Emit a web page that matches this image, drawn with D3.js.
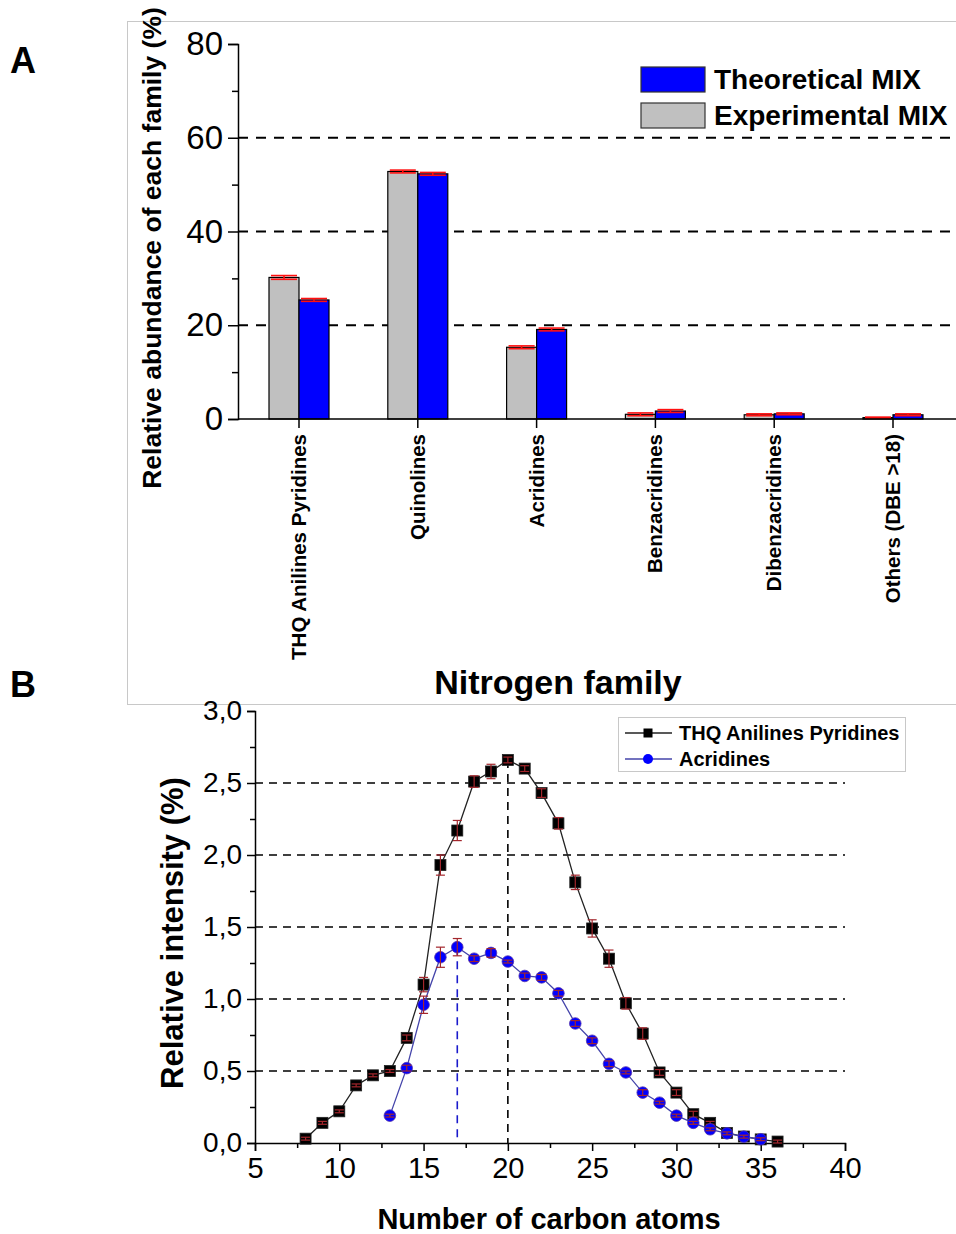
<!DOCTYPE html>
<html>
<head>
<meta charset="utf-8">
<script src="https://cdnjs.cloudflare.com/ajax/libs/d3/7.8.5/d3.min.js"></script>
<style>
  body { margin: 0; background: #fff; }
  svg text { font-family: Arial, "Liberation Sans", sans-serif; }
</style>
</head>
<body>
<svg id="fig" width="956" height="1234"></svg>
<script>
// Panel A data
var families = ["THQ Anilines Pyridines", "Quinolines", "Acridines", "Benzacridines", "Dibenzacridines", "Others (DBE >18)"];
var experimental = [30.2, 52.8, 15.3, 1.0, 0.9, 0.3];
var theoretical = [25.4, 52.3, 19.1, 1.7, 1.1, 0.9];
var errExp = [0.4, 0.3, 0.3, 0.3, 0.2, 0.1];
var errTheo = [0.3, 0.3, 0.3, 0.3, 0.2, 0.2];
var ticksA = [0, 20, 40, 60, 80];

// Panel B data
var carbonTHQ = d3.range(8, 37);
var thqValues = [0.03, 0.14, 0.22, 0.40, 0.47, 0.50, 0.73, 1.10, 1.93, 2.17, 2.51, 2.58, 2.66, 2.60, 2.43, 2.22, 1.81, 1.49, 1.28, 0.97, 0.76, 0.49, 0.35, 0.20, 0.14, 0.07, 0.045, 0.025, 0.01];
var thqErr = [0.01, 0.01, 0.01, 0.01, 0.01, 0.01, 0.02, 0.05, 0.07, 0.07, 0.04, 0.05, 0.02, 0.02, 0.03, 0.04, 0.05, 0.06, 0.06, 0.04, 0.04, 0.02, 0.02, 0.02, 0.01, 0.01, 0.01, 0.01, 0.01];
var carbonAcr = d3.range(13, 36);
var acrValues = [0.19, 0.52, 0.96, 1.29, 1.36, 1.28, 1.32, 1.26, 1.16, 1.15, 1.04, 0.83, 0.71, 0.55, 0.49, 0.35, 0.28, 0.19, 0.14, 0.095, 0.067, 0.044, 0.026];
var acrErr = [0.01, 0.02, 0.06, 0.07, 0.06, 0.02, 0.03, 0.01, 0.02, 0.02, 0.02, 0.02, 0.02, 0.02, 0.01, 0.02, 0.01, 0.01, 0.01, 0.01, 0.01, 0.01, 0.01];
var ticksBy = [0, 0.5, 1, 1.5, 2, 2.5, 3];
var ticksBx = [5, 10, 15, 20, 25, 30, 35, 40];

var svg = d3.select("#fig");
var fmt = function(d) { return d3.format(".1f")(d).replace(".", ","); };

// ---------- Panel A ----------
svg.append("rect")
  .attr("x", 127.5).attr("y", 21.5)
  .attr("width", 840).attr("height", 683)
  .attr("fill", "none").attr("stroke", "#c8c8c8");

svg.append("text").attr("x", 10).attr("y", 73)
  .style("font-size", "36px").style("font-weight", "bold").text("A");
svg.append("text").attr("x", 10).attr("y", 697)
  .style("font-size", "36px").style("font-weight", "bold").text("B");

var xA = d3.scalePoint().domain(families).range([299, 893]);
var yA = d3.scaleLinear().domain([0, 80]).range([419, 44]);
var gA = svg.append("g");

// grid
gA.selectAll(".gridA")
  .data([20, 40, 60])
  .enter().append("line")
    .attr("x1", 238).attr("x2", 956)
    .attr("y1", function(d) { return yA(d); })
    .attr("y2", function(d) { return yA(d); })
    .attr("stroke", "#000").attr("stroke-width", 2)
    .attr("stroke-dasharray", "10,8");

// bars
var barW = 30;
gA.selectAll(".barExp")
  .data(families)
  .enter().append("rect")
    .attr("x", function(d) { return xA(d) - barW; })
    .attr("y", function(d, i) { return yA(experimental[i]); })
    .attr("width", barW)
    .attr("height", function(d, i) { return yA(0) - yA(experimental[i]); })
    .attr("fill", "#c0c0c0").attr("stroke", "#000").attr("stroke-width", 1.2);
gA.selectAll(".barTheo")
  .data(families)
  .enter().append("rect")
    .attr("x", function(d) { return xA(d); })
    .attr("y", function(d, i) { return yA(theoretical[i]); })
    .attr("width", barW)
    .attr("height", function(d, i) { return yA(0) - yA(theoretical[i]); })
    .attr("fill", "#0000ff").attr("stroke", "#000").attr("stroke-width", 1.2);

// red error caps
function errA(vals, errs, dx) {
  var g = gA.append("g").attr("stroke", "#ff1010").attr("stroke-width", 1.6);
  families.forEach(function(f, i) {
    var cx = xA(f) + dx;
    g.append("line").attr("x1", cx).attr("x2", cx)
      .attr("y1", yA(vals[i] + errs[i])).attr("y2", yA(vals[i] - errs[i]));
    [vals[i] + errs[i], vals[i] - errs[i]].forEach(function(v) {
      g.append("line").attr("x1", cx - barW / 2 + 2).attr("x2", cx + barW / 2 - 2)
        .attr("y1", yA(v)).attr("y2", yA(v));
    });
  });
}
errA(experimental, errExp, -barW / 2);
errA(theoretical, errTheo, barW / 2);

// axes A
var axA = gA.append("g").attr("transform", "translate(238,0)")
  .call(d3.axisLeft(yA).tickValues(ticksA).tickSize(10).tickPadding(5));
axA.select(".domain").attr("stroke-width", 1.5);
axA.selectAll(".tick line").attr("stroke-width", 1.5);
axA.selectAll("text").style("font-size", "33px").style("font-family", "Arial, 'Liberation Sans'");
gA.append("g").attr("transform", "translate(238,0)")
  .call(d3.axisLeft(yA).tickValues([10, 30, 50, 70]).tickSize(6).tickFormat(""))
  .call(function(g) { g.select(".domain").remove(); })
  .selectAll("line").attr("stroke-width", 1.5);

gA.append("line").attr("x1", 238).attr("x2", 956)
  .attr("y1", yA(0)).attr("y2", yA(0))
  .attr("stroke", "#000").attr("stroke-width", 1.5);
gA.selectAll(".tickA")
  .data(families)
  .enter().append("line")
    .attr("x1", function(d) { return xA(d); })
    .attr("x2", function(d) { return xA(d); })
    .attr("y1", yA(0)).attr("y2", yA(0) + 9)
    .attr("stroke", "#000").attr("stroke-width", 1.5);
gA.selectAll(".labA")
  .data(families)
  .enter().append("text")
    .attr("transform", function(d) { return "translate(" + (xA(d) + 7) + "," + 434 + ") rotate(-90)"; })
    .style("text-anchor", "end")
    .style("font-size", "20.5px")
    .style("font-weight", "bold")
    .text(function(d) { return d; });

svg.append("text")
  .attr("transform", "translate(161," + 248 + ") rotate(-90)")
  .style("text-anchor", "middle").style("font-size", "26.5px").style("font-weight", "bold")
  .text("Relative abundance of each family (%)");
svg.append("text").attr("x", 558).attr("y", 694)
  .style("text-anchor", "middle").style("font-size", "34px").style("font-weight", "bold")
  .text("Nitrogen family");

// legend A
var legA = [["Theoretical MIX", "#0000ff"], ["Experimental MIX", "#c0c0c0"]];
legA.forEach(function(d, i) {
  svg.append("rect").attr("x", 641).attr("y", 67 + i * 36)
    .attr("width", 64).attr("height", 25)
    .attr("fill", d[1]).attr("stroke", "#333").attr("stroke-width", 1.2);
  svg.append("text").attr("x", 714).attr("y", 89 + i * 36)
    .style("font-size", "28px").style("font-weight", "bold").text(d[0]);
});

// ---------- Panel B ----------
var xB = d3.scaleLinear().domain([5, 40]).range([255, 845]);
var yB = d3.scaleLinear().domain([0, 3]).range([1143, 711]);
var gB = svg.append("g");

gB.selectAll(".gridB")
  .data([0.5, 1, 1.5, 2, 2.5])
  .enter().append("line")
    .attr("x1", 255).attr("x2", 845)
    .attr("y1", function(d) { return yB(d); })
    .attr("y2", function(d) { return yB(d); })
    .attr("stroke", "#000").attr("stroke-width", 1.6)
    .attr("stroke-dasharray", "8,6");

// peak markers
gB.append("line")
  .attr("x1", xB(20)).attr("x2", xB(20))
  .attr("y1", yB(thqValues[carbonTHQ.indexOf(20)])).attr("y2", yB(0))
  .attr("stroke", "#000").attr("stroke-width", 1.6).attr("stroke-dasharray", "8,6");
gB.append("line")
  .attr("x1", xB(17)).attr("x2", xB(17))
  .attr("y1", yB(acrValues[carbonAcr.indexOf(17)])).attr("y2", yB(0))
  .attr("stroke", "#1a1acc").attr("stroke-width", 1.6).attr("stroke-dasharray", "8,6");

// axes B
var axBy = gB.append("g").attr("transform", "translate(255,0)")
  .call(d3.axisLeft(yB).tickValues(ticksBy).tickSize(8).tickPadding(5).tickFormat(fmt));
axBy.selectAll("text").style("font-size", "28px");
axBy.select(".domain").attr("stroke-width", 1.5);
axBy.selectAll(".tick line").attr("stroke-width", 1.5);
gB.append("g").attr("transform", "translate(255,0)")
  .call(d3.axisLeft(yB).tickValues(d3.range(0.25, 3, 0.5)).tickSize(5).tickFormat(""))
  .call(function(g) { g.select(".domain").remove(); })
  .selectAll("line").attr("stroke-width", 1.5);

var axBx = gB.append("g").attr("transform", "translate(0," + yB(0) + ")")
  .call(d3.axisBottom(xB).tickValues(ticksBx).tickSize(8).tickPadding(6));
axBx.selectAll("text").style("font-size", "29px");
axBx.select(".domain").attr("stroke-width", 1.5);
axBx.selectAll(".tick line").attr("stroke-width", 1.5);
gB.append("g").attr("transform", "translate(0," + yB(0) + ")")
  .call(d3.axisBottom(xB).tickValues(d3.range(7.5, 40, 5)).tickSize(5).tickFormat(""))
  .call(function(g) { g.select(".domain").remove(); })
  .selectAll("line").attr("stroke-width", 1.5);

// series
function series(xs, ys, es, lineCol, fill, shape) {
  var pts = xs.map(function(x, i) { return {x: x, y: ys[i], e: es[i]}; });
  gB.append("path").datum(pts)
    .attr("d", d3.line().x(function(d) { return xB(d.x); }).y(function(d) { return yB(d.y); }))
    .attr("fill", "none").attr("stroke", lineCol).attr("stroke-width", 1.3);
  if (shape == "square") {
    gB.selectAll(null).data(pts).enter().append("rect")
      .attr("x", function(d) { return xB(d.x) - 5.5; })
      .attr("y", function(d) { return yB(d.y) - 5.5; })
      .attr("width", 11).attr("height", 11)
      .attr("fill", fill).attr("stroke", "#222").attr("stroke-width", 0.8);
  } else {
    gB.selectAll(null).data(pts).enter().append("circle")
      .attr("cx", function(d) { return xB(d.x); })
      .attr("cy", function(d) { return yB(d.y); })
      .attr("r", 5.8)
      .attr("fill", fill).attr("stroke", "#5533aa").attr("stroke-width", 0.8);
  }
  var eb = gB.append("g").attr("stroke", "#a3262c").attr("stroke-width", 1.2);
  pts.forEach(function(d) {
    var cx = xB(d.x);
    eb.append("line").attr("x1", cx).attr("x2", cx)
      .attr("y1", yB(d.y + d.e)).attr("y2", yB(d.y - d.e));
    [d.y + d.e, d.y - d.e].forEach(function(v) {
      eb.append("line").attr("x1", cx - 4.5).attr("x2", cx + 4.5)
        .attr("y1", yB(v)).attr("y2", yB(v));
    });
  });
}
series(carbonTHQ, thqValues, thqErr, "#222", "#000", "square");
series(carbonAcr, acrValues, acrErr, "#4444aa", "#0000ff", "circle");

// axis titles B
svg.append("text")
  .attr("transform", "translate(183," + 933 + ") rotate(-90)")
  .style("text-anchor", "middle").style("font-size", "31px").style("font-weight", "bold")
  .text("Relative intensity (%)");
svg.append("text").attr("x", 549).attr("y", 1229)
  .style("text-anchor", "middle").style("font-size", "29px").style("font-weight", "bold")
  .text("Number of carbon atoms");

// legend B
var legB = svg.append("g");
legB.append("rect").attr("x", 618.5).attr("y", 717.5).attr("width", 287).attr("height", 54)
  .attr("fill", "#fff").attr("stroke", "#c8c8c8");
legB.append("line").attr("x1", 625).attr("x2", 672).attr("y1", 733).attr("y2", 733)
  .attr("stroke", "#222").attr("stroke-width", 1.3);
legB.append("rect").attr("x", 643.5).attr("y", 728.5).attr("width", 9).attr("height", 9).attr("fill", "#000");
legB.append("line").attr("x1", 625).attr("x2", 672).attr("y1", 759).attr("y2", 759)
  .attr("stroke", "#4444aa").attr("stroke-width", 1.3);
legB.append("circle").attr("cx", 648).attr("cy", 759).attr("r", 5).attr("fill", "#0000ff");
legB.append("text").attr("x", 679).attr("y", 740)
  .style("font-size", "20px").style("font-weight", "bold").text("THQ Anilines Pyridines");
legB.append("text").attr("x", 679).attr("y", 766)
  .style("font-size", "20px").style("font-weight", "bold").text("Acridines");
</script>
</body>
</html>
